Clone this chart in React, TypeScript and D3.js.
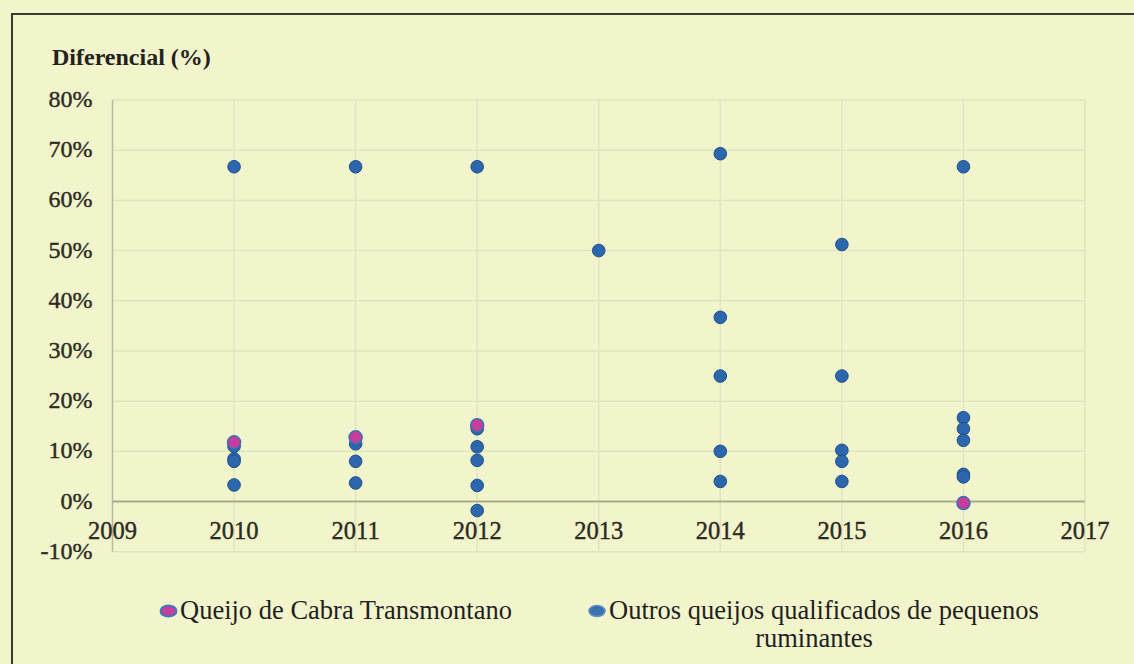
import React, {useEffect, useRef} from "react";
import * as d3 from "d3";

const WIDTH = 1134;
const HEIGHT = 664;

const years = [2009, 2010, 2011, 2012, 2013, 2014, 2015, 2016, 2017];
const yTicks = [-10, 0, 10, 20, 30, 40, 50, 60, 70, 80];

// Queijo de Cabra Transmontano
const cabraYears = [2010, 2011, 2012, 2016];
const cabraValues = [11.8, 12.8, 15.2, -0.3];

// Outros queijos qualificados de pequenos ruminantes
const outrosYears = [
  2010, 2010, 2010, 2010, 2010,
  2011, 2011, 2011, 2011,
  2012, 2012, 2012, 2012, 2012, 2012,
  2013,
  2014, 2014, 2014, 2014, 2014,
  2015, 2015, 2015, 2015, 2015,
  2016, 2016, 2016, 2016, 2016, 2016,
];
const outrosValues = [
  66.7, 11.0, 8.5, 8.0, 3.3,
  66.7, 11.5, 8.0, 3.7,
  66.7, 14.5, 10.9, 8.2, 3.2, -1.8,
  50,
  69.3, 36.7, 25, 10, 4,
  51.2, 25, 10.2, 8.0, 4,
  66.7, 16.7, 14.5, 12.2, 5.4, 4.9,
];

const legendLabels = ["Queijo de Cabra Transmontano", "Outros queijos qualificados de pequenos"];

const BG = "#f2f4cc";
const GRID = "#e2e4bd";
const BLUE = "#2c67ae";
const BLUE_EDGE = "#1f4f8d";
const PINK = "#c63d9c";
const SERIF = '"Liberation Serif", "Tinos"';

export default function App() {
  const ref = useRef<SVGSVGElement>(null);

  useEffect(() => {
    const svg = d3.select(ref.current);
    svg.selectAll("*").remove();

    const x = d3.scaleLinear().domain([2009, 2017]).range([112.5, 1085]);
    const y = d3.scaleLinear().domain([-10, 80]).range([551.7, 100]);

    svg.append("rect").attr("width", WIDTH).attr("height", HEIGHT).attr("fill", BG);

    // frame
    svg.append("line").attr("x1", 12).attr("x2", WIDTH).attr("y1", 14).attr("y2", 14)
      .attr("stroke", "#3a3a30").attr("stroke-width", 2);
    svg.append("line").attr("x1", 12).attr("x2", 12).attr("y1", 13).attr("y2", HEIGHT)
      .attr("stroke", "#3a3a30").attr("stroke-width", 2);

    // grid
    const g = svg.append("g");
    g.selectAll(".hg").data(yTicks.filter(d => d !== 0)).join("line")
      .attr("x1", x(2009)).attr("x2", x(2017))
      .attr("y1", d => y(d)).attr("y2", d => y(d))
      .attr("stroke", GRID).attr("stroke-width", 1.5);
    g.selectAll(".vg").data(years.slice(1)).join("line")
      .attr("x1", d => x(d)).attr("x2", d => x(d))
      .attr("y1", y(80)).attr("y2", y(-10))
      .attr("stroke", GRID).attr("stroke-width", 1.5);

    // axes
    g.append("line").attr("x1", x(2009)).attr("x2", x(2009)).attr("y1", y(80)).attr("y2", y(-10))
      .attr("stroke", "#b9ba9c").attr("stroke-width", 1.5);
    g.append("line").attr("x1", x(2009)).attr("x2", x(2017)).attr("y1", y(0)).attr("y2", y(0))
      .attr("stroke", "#a8ab88").attr("stroke-width", 1.8);

    // y tick labels
    svg.selectAll(".yl").data(yTicks).join("text")
      .attr("x", 92.5).attr("y", d => y(d) + 7)
      .attr("text-anchor", "end")
      .style("font-family", SERIF).attr("font-size", 24)
      .attr("fill", "#2b2b22").attr("stroke", "#2b2b22").attr("stroke-width", 0.4)
      .text(d => `${d}%`);

    // x tick labels
    svg.selectAll(".xl").data(years).join("text")
      .attr("x", d => x(d)).attr("y", 539)
      .attr("text-anchor", "middle")
      .style("font-family", SERIF).attr("font-size", 24.5)
      .attr("fill", "#2b2b22").attr("stroke", "#2b2b22").attr("stroke-width", 0.4)
      .text(d => String(d));

    // title
    svg.append("text").attr("x", 52).attr("y", 65)
      .style("font-family", SERIF).attr("font-size", 24).attr("font-weight", "bold")
      .attr("fill", "#23231c").text("Diferencial (%)");

    // points
    svg.append("g").selectAll("circle").data(outrosValues).join("circle")
      .attr("cx", (d, i) => x(outrosYears[i])).attr("cy", d => y(d)).attr("r", 6.3)
      .attr("fill", BLUE).attr("stroke", BLUE_EDGE).attr("stroke-width", 1);
    svg.append("g").selectAll("circle").data(cabraValues).join("circle")
      .attr("cx", (d, i) => x(cabraYears[i])).attr("cy", d => y(d)).attr("r", 6.5)
      .attr("fill", PINK).attr("stroke", "#3b6fb0").attr("stroke-width", 1.5);

    // legend
    const lg = svg.append("g").style("font-family", SERIF).attr("font-size", 26.5).attr("fill", "#1f1f1f");
    lg.append("ellipse").attr("cx", 168.5).attr("cy", 611).attr("rx", 8).attr("ry", 5.5)
      .attr("fill", PINK).attr("stroke", "#3d78b6").attr("stroke-width", 2);
    lg.append("text").attr("x", 180).attr("y", 618.5).text(legendLabels[0]);
    lg.append("ellipse").attr("cx", 597).attr("cy", 611).attr("rx", 8).attr("ry", 5.5)
      .attr("fill", "#3b72ae").attr("stroke", "#5b8fc6").attr("stroke-width", 1.5);
    lg.append("text").attr("x", 609).attr("y", 618.5).text(legendLabels[1]);
    lg.append("text").attr("x", 814).attr("y", 647).attr("text-anchor", "middle").text("ruminantes");
  }, []);

  return (
    <div style={{position: "fixed", left: 0, top: 0}}>
      <svg ref={ref} width={WIDTH} height={HEIGHT} style={{display: "block"}} />
    </div>
  );
}
